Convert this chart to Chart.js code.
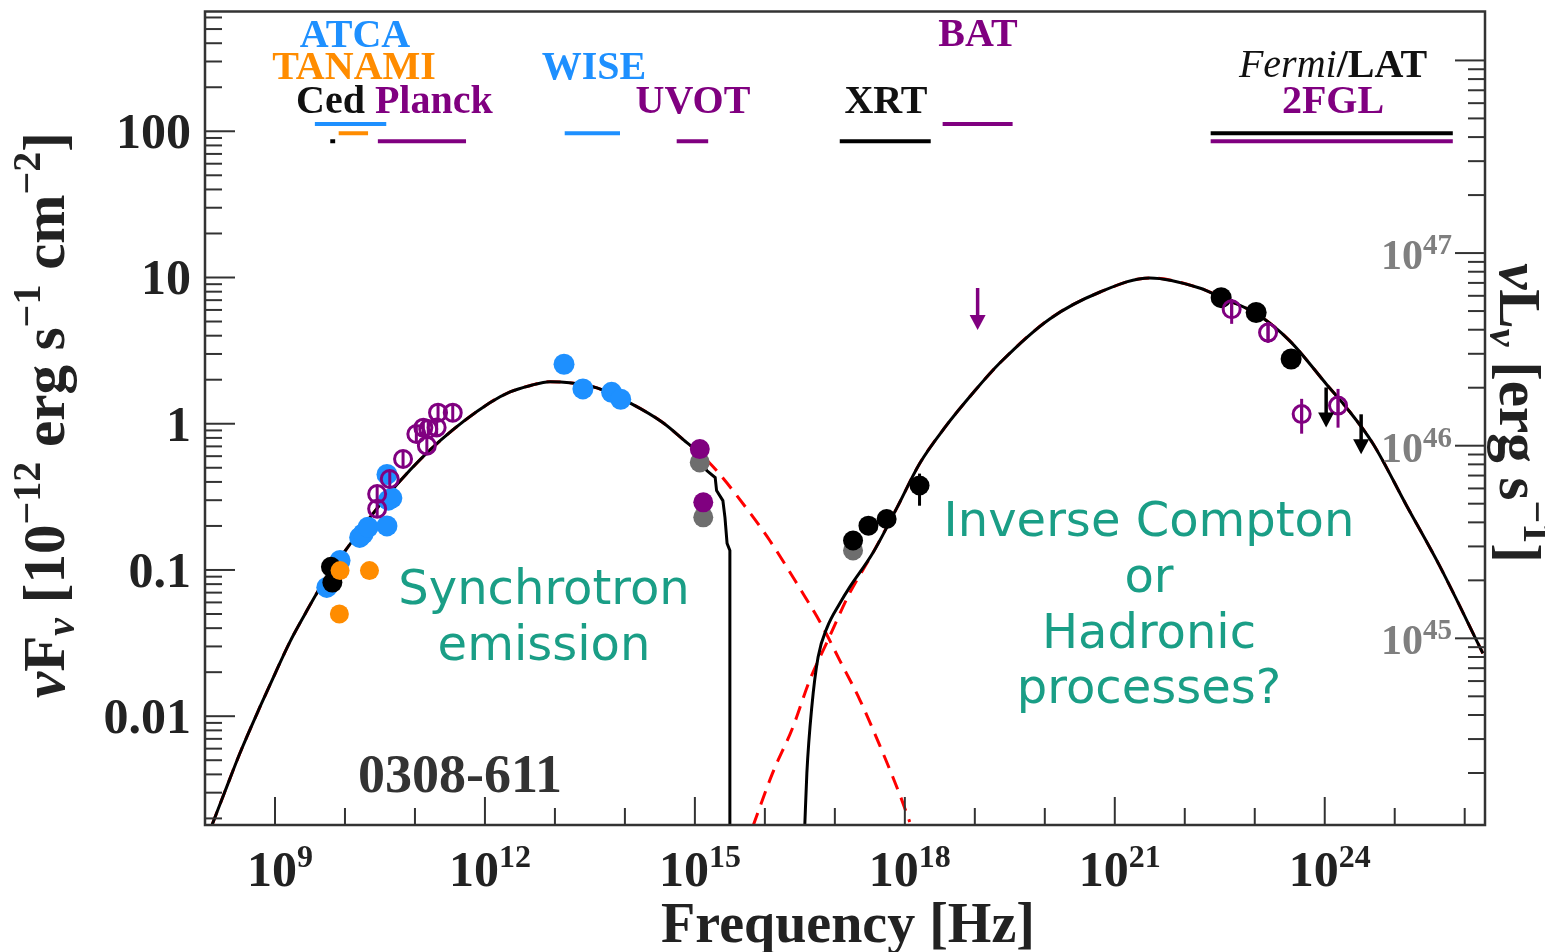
<!DOCTYPE html>
<html>
<head>
<meta charset="utf-8">
<script src="https://cdn.jsdelivr.net/npm/chart.js@4.4.1/dist/chart.umd.min.js"></script>
<style>
  html, body { margin: 0; background: #fff; }
</style>
</head>
<body>
<canvas id="sed" width="1545" height="952"></canvas>
<script>
// axis ranges (log10)
const nuRange = [8, 26.29];
const fluxRange = [-2.744, 2.819];
const lumRange = [44.031, 48.254];

const xTickExps = [9, 12, 15, 18, 21, 24];
const yTickValues = [100, 10, 1, 0.1, 0.01];
const yTickLabels = ['100', '10', '1', '0.1', '0.01'];
const lumTickExps = [45, 46, 47];

// model curves: log10(nu / Hz) and nuFnu in 1e-12 erg/s/cm2
const syncNu = [8.10, 8.29, 8.50, 8.79, 9.00, 9.21, 9.43, 9.64, 10.04, 10.40, 10.79, 11.36, 12.07, 12.36, 12.64, 12.93, 13.21, 13.60, 14.07, 14.54, 14.89, 15.03];
const syncF = [0.0018, 0.0031, 0.0056, 0.0117, 0.0195, 0.032, 0.050, 0.075, 0.143, 0.243, 0.408, 0.766, 1.39, 1.65, 1.82, 1.94, 1.91, 1.76, 1.39, 1.02, 0.74, 0.654];
const cutoffNu = [15.03, 15.17, 15.29, 15.31, 15.40, 15.43, 15.46, 15.50, 15.50];
const cutoffF = [0.654, 0.478, 0.428, 0.349, 0.298, 0.228, 0.152, 0.136, 0.0018];
const syncTailNu = [15.03, 15.31, 15.71, 16.07, 16.50, 16.79, 17.07, 17.36, 17.64, 17.93, 18.07];
const syncTailF = [0.654, 0.478, 0.275, 0.159, 0.0748, 0.0439, 0.0241, 0.01285, 0.00634, 0.00289, 0.00189];
const icNu = [16.57, 16.60, 16.67, 16.76, 16.89, 17.07, 17.21, 17.54, 17.89, 18.21, 18.57, 19.00, 19.36, 20.07, 20.79, 21.50, 22.21, 22.54, 23.03, 23.50, 24.03, 24.31, 24.69, 25.17, 25.64, 26.26];
const icF = [0.00177, 0.00408, 0.0115, 0.0253, 0.0405, 0.059, 0.076, 0.130, 0.268, 0.533, 0.94, 1.68, 2.61, 5.21, 7.96, 9.93, 8.48, 7.24, 5.63, 3.69, 1.85, 1.29, 0.730, 0.275, 0.107, 0.0269];
const icRiseNu = [15.83, 16.11, 16.40, 16.64, 16.90, 17.21, 17.54];
const icRiseF = [0.00177, 0.00408, 0.0084, 0.0176, 0.033, 0.0692, 0.130];

// observations
const atcaNu = [9.74, 9.93, 10.21, 10.26, 10.33, 10.60, 10.62, 10.67, 10.60];
const atcaF = [0.076, 0.116, 0.167, 0.177, 0.196, 0.20, 0.30, 0.31, 0.45];
const cedNu = [9.80, 9.82];
const cedF = [0.105, 0.082];
const tanamiNu = [9.93, 10.35, 9.92];
const tanamiF = [0.099, 0.099, 0.050];
const planckNu = [10.46, 10.46, 10.64, 10.83, 11.02, 11.12, 11.17, 11.19, 11.31, 11.33, 11.54];
const planckF = [0.262, 0.331, 0.419, 0.574, 0.851, 0.94, 0.708, 0.920, 0.944, 1.19, 1.19];
const wiseNu = [13.13, 13.40, 13.81, 13.94];
const wiseF = [2.55, 1.73, 1.64, 1.47];
const uvotNu = [15.07, 15.12];
const uvotF = [0.671, 0.290];
const uvotObsF = [0.544, 0.229];
const xrtNu = [17.26, 17.48, 17.74, 18.21];
const xrtF = [0.159, 0.201, 0.223, 0.378];
const xrtLo = [null, null, null, 0.275];
const xrtHi = [null, null, null, 0.456];
const xrtObsNu = [17.26];
const xrtObsF = [0.136];
const batUlNu = [19.04];
const batUlF = [8.48];
const latNu = [22.52, 23.02, 23.52];
const latF = [7.28, 5.76, 2.77];
const latUlNu = [24.02, 24.52];
const latUlF = [1.77, 1.16];
const fglNu = [22.67, 23.19, 23.67, 24.19];
const fglF = [6.07, 4.20, 1.164, 1.33];
const fglLo = [4.82, 3.57, 0.855, 0.940];
const fglHi = [7.13, 4.97, 1.48, 1.73];

// instrument coverage: [log nu low, log nu high, flux level]
const bandAtca = [9.57, 10.59, 112];
const bandTanami = [9.91, 10.33, 97];
const bandCed = [9.79, 9.86, 85.5];
const bandPlanck = [10.47, 11.73, 85.5];
const bandWise = [13.14, 13.93, 97];
const bandUvot = [14.74, 15.19, 85.5];
const bandXrt = [17.07, 18.37, 85.5];
const bandBat = [18.54, 19.54, 112];
const bandLat = [22.37, 25.83, 97];
const bandFgl = [22.37, 25.83, 85.5];

const BLUE = '#1e90ff', ORANGE = '#ff8c00', PURPLE = '#800080', GRAY = '#6e6e6e', TEAL = '#1a9e86';
const SERIF = '"Liberation Serif", "Times New Roman", serif';

const pts = (nu, f) => nu.map((n, i) => ({ x: 10 ** n, y: f[i] }));

const dots = (nu, f, color, r) => ({
  data: pts(nu, f), backgroundColor: color, borderColor: color,
  pointRadius: r, borderWidth: 0
});
const rings = (nu, f, extra) => Object.assign({
  data: pts(nu, f), backgroundColor: 'rgba(0,0,0,0)', borderColor: PURPLE,
  pointRadius: 8.5, borderWidth: 3, crossbar: true
}, extra);
const band = (b, color) => ({
  data: pts([b[0], b[1]], [b[2], b[2]]), showLine: true, borderColor: color,
  borderWidth: 4, pointRadius: 0, borderCapStyle: 'butt'
});
const curve = (nu, f, color, dashed, smooth) => ({
  data: pts(nu, f), showLine: true, borderColor: color, borderWidth: 3,
  pointRadius: 0, tension: smooth ? 0.4 : 0,
  cubicInterpolationMode: smooth ? 'monotone' : 'default',
  borderDash: dashed ? [14, 9] : []
});

const datasets = [
  rings(fglNu, fglF, { errLo: fglLo, errHi: fglHi }),
  rings(planckNu, planckF),
  dots(uvotNu, uvotF, PURPLE, 10),
  dots(uvotNu, uvotObsF, GRAY, 10),
  dots(latNu, latF, '#000', 10.5),
  Object.assign(dots(xrtNu, xrtF, '#000', 10), { errLo: xrtLo, errHi: xrtHi }),
  dots(xrtObsNu, xrtObsF, GRAY, 10),
  dots(tanamiNu, tanamiF, ORANGE, 9.5),
  dots(cedNu, cedF, '#000', 10),
  dots(atcaNu, atcaF, BLUE, 10.5),
  dots(wiseNu, wiseF, BLUE, 10.5),
  { data: pts(batUlNu, batUlF), pointRadius: 0, arrow: 42, borderColor: PURPLE },
  { data: pts(latUlNu, latUlF), pointRadius: 0, arrow: 40, borderColor: '#000' },
  band(bandAtca, BLUE), band(bandTanami, ORANGE), band(bandCed, '#000'),
  band(bandPlanck, PURPLE), band(bandWise, BLUE), band(bandUvot, PURPLE),
  band(bandXrt, '#000'), band(bandBat, PURPLE), band(bandLat, '#000'), band(bandFgl, PURPLE),
  curve(syncNu, syncF, '#000', false, true),
  curve(cutoffNu, cutoffF, '#000', false, false),
  curve(icNu, icF, '#000', false, true),
  curve(syncNu.concat(syncTailNu.slice(1)), syncF.concat(syncTailF.slice(1)), '#ff0000', true, true),
  curve(icRiseNu.concat(icNu.slice(8)), icRiseF.concat(icF.slice(8)), '#ff0000', true, true)
];

function rich(ctx, parts, x, y, align) {
  let w = 0;
  parts.forEach(p => { ctx.font = p.font; w += ctx.measureText(p.t).width; });
  let cx = align === 'right' ? x - w : align === 'center' ? x - w / 2 : x;
  parts.forEach(p => {
    ctx.font = p.font;
    ctx.fillStyle = p.color || '#222';
    ctx.fillText(p.t, cx, y + (p.dy || 0));
    cx += ctx.measureText(p.t).width;
  });
}

function tick(ctx, x1, y1, x2, y2) {
  ctx.beginPath(); ctx.moveTo(x1, y1); ctx.lineTo(x2, y2); ctx.stroke();
}

// error bars, crossbars and upper-limit arrows
const marks = {
  id: 'marks',
  afterDatasetsDraw(chart) {
    const { ctx, scales: { x, y } } = chart;
    ctx.save();
    chart.data.datasets.forEach(ds => {
      ds.data.forEach((p, i) => {
        const px = x.getPixelForValue(p.x), py = y.getPixelForValue(p.y);
        ctx.strokeStyle = ds.borderColor;
        ctx.fillStyle = ds.borderColor;
        ctx.lineWidth = 3;
        if (ds.errLo && ds.errLo[i] != null) {
          tick(ctx, px, y.getPixelForValue(ds.errLo[i]), px, y.getPixelForValue(ds.errHi[i]));
        }
        if (ds.crossbar) tick(ctx, px, py - ds.pointRadius, px, py + ds.pointRadius);
        if (ds.arrow) {
          ctx.lineWidth = 3.5;
          tick(ctx, px, py, px, py + ds.arrow - 10);
          ctx.beginPath();
          ctx.moveTo(px - 8, py + ds.arrow - 15);
          ctx.lineTo(px + 8, py + ds.arrow - 15);
          ctx.lineTo(px, py + ds.arrow);
          ctx.closePath();
          ctx.fill();
        }
      });
    });
    ctx.restore();
  }
};

// frame, inward ticks, labels and texts
const decor = {
  id: 'decor',
  afterDraw(chart) {
    const { ctx, chartArea: a, scales: { x, y, y2 } } = chart;
    ctx.save();
    ctx.strokeStyle = '#333';
    ctx.lineWidth = 2.5;
    ctx.strokeRect(a.left, a.top, a.right - a.left, a.bottom - a.top);
    ctx.lineWidth = 2;
    ctx.textBaseline = 'alphabetic';
    ctx.textAlign = 'left';

    for (let e = Math.ceil(nuRange[0]); e <= nuRange[1]; e++) {
      const px = x.getPixelForValue(10 ** e);
      tick(ctx, px, a.bottom, px, a.bottom - (xTickExps.includes(e) ? 28 : 17));
    }
    [[y, a.left, 1], [y2, a.right, -1]].forEach(([s, x0, dir]) => {
      for (let e = Math.floor(Math.log10(s.min)); e <= Math.log10(s.max); e++) {
        for (let m = 1; m <= 9; m++) {
          const v = m * 10 ** e;
          if (v < s.min || v > s.max) continue;
          const py = s.getPixelForValue(v);
          tick(ctx, x0, py, x0 + dir * (m === 1 ? 30 : 17), py);
        }
      }
    });

    const big = 'bold 50px ' + SERIF, sup = 'bold 32px ' + SERIF;
    xTickExps.forEach(e => {
      rich(ctx, [{ t: '10', font: big }, { t: String(e), font: sup, dy: -19 }],
        x.getPixelForValue(10 ** e) + 5, 886, 'center');
    });
    yTickValues.forEach((v, i) => {
      rich(ctx, [{ t: yTickLabels[i], font: big }], 191, y.getPixelForValue(v) + 17, 'right');
    });
    lumTickExps.forEach(e => {
      rich(ctx, [{ t: '10', font: 'bold 42px ' + SERIF, color: '#7f7f7f' },
        { t: String(e), font: 'bold 29px ' + SERIF, color: '#7f7f7f', dy: -15 }],
        1452, y2.getPixelForValue(10 ** e) + 16, 'right');
    });

    // axis titles
    rich(ctx, [{ t: 'Frequency [Hz]', font: 'bold 56px ' + SERIF }], 848, 942, 'center');
    const T = 'bold 59px ' + SERIF, Ti = 'italic bold 59px ' + SERIF;
    const S = 'bold 40px ' + SERIF, Si = 'italic bold 40px ' + SERIF;
    ctx.save();
    ctx.translate(64, 415);
    ctx.rotate(-Math.PI / 2);
    rich(ctx, [{ t: 'ν', font: Ti }, { t: 'F', font: T }, { t: 'ν', font: Si, dy: 10 },
      { t: ' [10', font: T }, { t: '−12', font: S, dy: -24 }, { t: ' erg s', font: T },
      { t: '−1', font: S, dy: -24 }, { t: ' cm', font: T }, { t: '−2', font: S, dy: -24 },
      { t: ']', font: T }], 0, 0, 'center');
    ctx.restore();
    ctx.save();
    ctx.translate(1500, 413);
    ctx.rotate(Math.PI / 2);
    rich(ctx, [{ t: 'ν', font: Ti }, { t: 'L', font: T }, { t: 'ν', font: Si, dy: 10 },
      { t: ' [erg s', font: T }, { t: '−1', font: S, dy: -24 }, { t: ']', font: T }], 0, 0, 'center');
    ctx.restore();

    // instrument names
    const L = 'bold 40px ' + SERIF;
    rich(ctx, [{ t: 'ATCA', font: L, color: BLUE }], 355, 47, 'center');
    rich(ctx, [{ t: 'TANAMI', font: L, color: ORANGE }], 354, 79, 'center');
    rich(ctx, [{ t: 'Ced', font: L, color: '#111' }, { t: ' Planck', font: L, color: PURPLE }], 296, 113, 'left');
    rich(ctx, [{ t: 'WISE', font: L, color: BLUE }], 594, 79, 'center');
    rich(ctx, [{ t: 'UVOT', font: L, color: PURPLE }], 693, 113, 'center');
    rich(ctx, [{ t: 'BAT', font: L, color: PURPLE }], 978, 46, 'center');
    rich(ctx, [{ t: 'XRT', font: L, color: '#111' }], 886, 113, 'center');
    rich(ctx, [{ t: 'Fermi', font: 'italic 40px ' + SERIF, color: '#111' },
      { t: '/LAT', font: L, color: '#111' }], 1333, 77, 'center');
    rich(ctx, [{ t: '2FGL', font: L, color: PURPLE }], 1333, 113, 'center');

    rich(ctx, [{ t: '0308-611', font: 'bold 54px ' + SERIF, color: '#333' }], 460, 792, 'center');

    const A = '48px "DejaVu Sans", sans-serif';
    [['Synchrotron', 544, 604], ['emission', 544, 660],
     ['Inverse Compton', 1149, 536], ['or', 1149, 592], ['Hadronic', 1149, 648], ['processes?', 1149, 703]]
      .forEach(([t, cx, cy]) => rich(ctx, [{ t: t, font: A, color: TEAL }], cx, cy, 'center'));
    ctx.restore();
  }
};

new Chart(document.getElementById('sed'), {
  type: 'scatter',
  data: { datasets: datasets },
  options: {
    responsive: false,
    animation: false,
    devicePixelRatio: 1,
    layout: { padding: { left: 205, right: 60, top: 10, bottom: 127 } },
    plugins: { legend: { display: false }, tooltip: { enabled: false } },
    scales: {
      x: { type: 'logarithmic', min: 10 ** nuRange[0], max: 10 ** nuRange[1], display: false },
      y: { type: 'logarithmic', min: 10 ** fluxRange[0], max: 10 ** fluxRange[1], display: false },
      y2: { type: 'logarithmic', position: 'right', min: 10 ** lumRange[0], max: 10 ** lumRange[1], display: false }
    }
  },
  plugins: [marks, decor]
});
</script>
</body>
</html>
